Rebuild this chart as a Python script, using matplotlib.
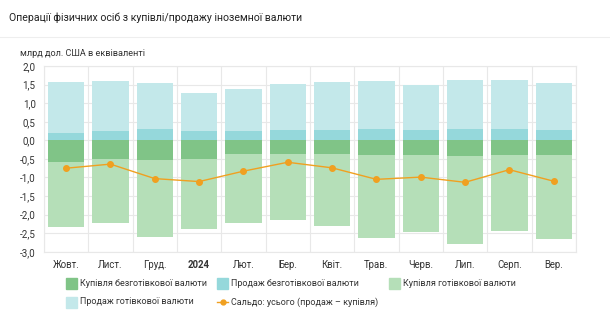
import matplotlib
matplotlib.use('Agg')
from matplotlib import pyplot as plt
from matplotlib.patches import Rectangle
from matplotlib.lines import Line2D
import numpy as np

plt.rcParams['font.family'] = ['Roboto', 'DejaVu Sans']

# Months (Oct 2023 - Sep 2024)
months = ['Жовт.', 'Лист.', 'Груд.', '2024', 'Лют.', 'Бер.', 'Квіт.', 'Трав.', 'Черв.', 'Лип.', 'Серп.', 'Вер.']

# bn USD
noncash_sale = [0.20, 0.24, 0.30, 0.25, 0.25, 0.28, 0.28, 0.30, 0.28, 0.30, 0.30, 0.27]
cash_sale = [1.37, 1.35, 1.25, 1.02, 1.12, 1.25, 1.28, 1.29, 1.20, 1.33, 1.32, 1.27]
noncash_buy = [0.58, 0.51, 0.54, 0.50, 0.38, 0.36, 0.37, 0.40, 0.39, 0.43, 0.40, 0.40]
cash_buy = [1.75, 1.72, 2.06, 1.90, 1.85, 1.79, 1.94, 2.24, 2.08, 2.35, 2.04, 2.27]
balance = [-0.75, -0.64, -1.03, -1.11, -0.83, -0.59, -0.74, -1.05, -0.99, -1.13, -0.79, -1.10]

c_noncash_buy = '#80c487'
c_noncash_sale = '#95d8db'
c_cash_buy = '#b5dfb8'
c_cash_sale = '#c3e8ea'
c_line = '#f0a020'
c_text = '#333333'

W, H = 610, 324
fig = plt.figure(figsize=(W / 100, H / 100), dpi=100)
ax = fig.add_axes([0.072, 0.223, 0.872, 0.573])

x = np.arange(len(months))
w = 0.82
ax.bar(x, noncash_sale, w, color=c_noncash_sale, zorder=2)
ax.bar(x, cash_sale, w, bottom=noncash_sale, color=c_cash_sale, zorder=2)
nb = -np.array(noncash_buy)
ax.bar(x, nb, w, color=c_noncash_buy, zorder=2)
ax.bar(x, -np.array(cash_buy), w, bottom=nb, color=c_cash_buy, zorder=2)
ax.plot(x, balance, color=c_line, lw=1, marker='o', ms=4, zorder=3)

ax.set_xlim(-0.5, len(months) - 0.5)
ax.set_ylim(-3.0, 2.0)
yt = np.arange(-3.0, 2.01, 0.5)
ax.set_yticks(yt)
ax.set_yticklabels([('%.1f' % v).replace('.', ',') for v in yt], fontsize=7, color=c_text)
ax.set_xticks(x)
ax.set_xticklabels(months, fontsize=6.9, color=c_text)
ax.get_xticklabels()[3].set_fontweight('bold')
ax.set_xticks(np.arange(-0.5, len(months)), minor=True)
ax.tick_params(length=0, which='both', pad=6)
ax.grid(axis='y', color='#e8e8e8', lw=0.8, zorder=0)
ax.grid(axis='x', which='minor', color='#e8e8e8', lw=0.8, zorder=0)
for s in ax.spines.values():
    s.set_color('#e8e8e8')
    s.set_linewidth(0.8)

fig.text(9 / W, 1 - 18 / H, 'Операції фізичних осіб з купівлі/продажу іноземної валюти',
         fontsize=7.6, color='#222222', va='center')
fig.add_artist(Line2D([0, 1], [1 - 37 / H, 1 - 37 / H], color='#eeeeee', lw=0.8))
fig.text(20 / W, 1 - 54 / H, 'млрд дол. США в еквіваленті', fontsize=6.6, color=c_text, va='center')

# legend drawn by hand: (kind, colour, label, x px, y px)
legend_items = [
    ('box', c_noncash_buy, 'Купівля безготівкової валюти', 66, 283),
    ('box', c_noncash_sale, 'Продаж безготівкової валюти', 217, 283),
    ('box', c_cash_buy, 'Купівля готівкової валюти', 389, 283),
    ('box', c_cash_sale, 'Продаж готівкової валюти', 66, 302),
    ('line', c_line, 'Сальдо: усього (продаж – купівля)', 217, 302),
]
for kind, col, label, px, py in legend_items:
    if kind == 'box':
        fig.add_artist(Rectangle((px / W, (H - py - 5.5) / H), 11 / W, 11 / H,
                                 color=col, transform=fig.transFigure))
    else:
        fig.add_artist(Line2D([px / W, (px + 11) / W], [1 - py / H, 1 - py / H],
                              color=col, lw=1, marker='o', ms=3, markevery=[],
                              transform=fig.transFigure))
        fig.add_artist(Line2D([(px + 5.5) / W], [1 - py / H], color=col, marker='o',
                              ms=3.5, lw=0, transform=fig.transFigure))
    fig.text((px + 14) / W, 1 - py / H, label, fontsize=6.5, color=c_text, va='center')

plt.savefig('out.png', dpi=100)
